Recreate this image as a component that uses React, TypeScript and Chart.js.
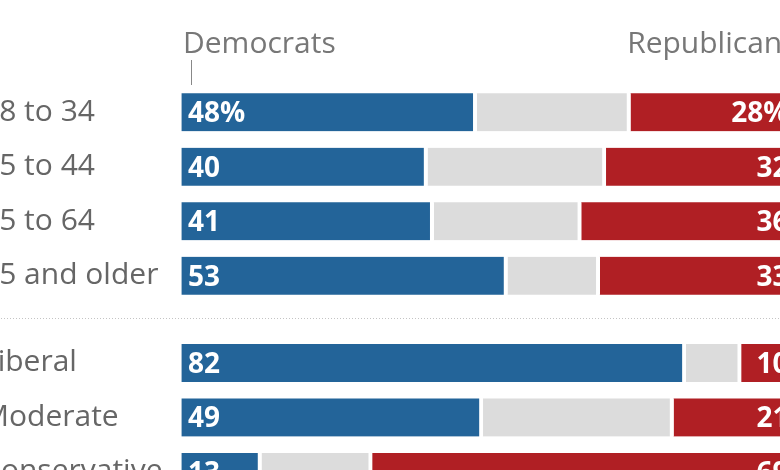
import React, { useEffect, useRef } from "react";
import { Chart, registerables } from "chart.js";

Chart.register(...registerables);

// ---- data ----
const CATEGORIES = ["18 to 34", "35 to 44", "45 to 64", "65 and older", "Liberal", "Moderate", "Conservative"];
const GROUP_SIZES = [4, 3];
const SERIES_NAMES = ["Democrats", "Other", "Republicans"];
const DEMOCRATS = [48, 40, 41, 53, 82, 49, 13];
const OTHER = [25, 29, 24, 15, 9, 31, 18];
const REPUBLICANS = [28, 32, 36, 33, 10, 21, 69];

// ---- styling / layout ----
const GROUP_GAP = 0.6;
const COLORS = ["#236499", "#dcdcdc", "#b01f24"];
const FONT = '"Open Sans", "Liberation Sans", sans-serif';

const ROW_POS: number[] = [];
(() => {
  let p = 0;
  GROUP_SIZES.forEach((n) => {
    for (let i = 0; i < n; i++) {
      ROW_POS.push(p);
      p += 1;
    }
    p += GROUP_GAP;
  });
})();

const overlay = {
  id: "overlay",
  afterDatasetsDraw(chart: any) {
    const { ctx, scales } = chart;
    const x = scales.x;
    const y = scales.y;
    const x0 = x.getPixelForValue(0);
    const x100 = x.getPixelForValue(100);
    ctx.save();

    // headers
    ctx.font = `30px ${FONT}`;
    ctx.fillStyle = "#777";
    ctx.textBaseline = "alphabetic";
    ctx.textAlign = "left";
    ctx.fillText(SERIES_NAMES[0], x0 + 1.5, y.top - 32);
    ctx.textAlign = "right";
    ctx.fillText(SERIES_NAMES[2], x100, y.top - 32);

    // little tick under first header
    ctx.strokeStyle = "#888";
    ctx.lineWidth = 1;
    ctx.beginPath();
    const tx = Math.round(x0 + 9) + 0.5;
    ctx.moveTo(tx, y.top - 25);
    ctx.lineTo(tx, y.top);
    ctx.stroke();

    // dotted separators between groups
    ctx.strokeStyle = "#c4c4c4";
    ctx.setLineDash([1, 2]);
    let idx = 0;
    for (let g = 0; g < GROUP_SIZES.length - 1; g++) {
      idx += GROUP_SIZES[g];
      const mid = (ROW_POS[idx - 1] + ROW_POS[idx]) / 2;
      const py = Math.round(y.getPixelForValue(mid) - 1.5) + 0.5;
      ctx.beginPath();
      ctx.moveTo(0, py);
      ctx.lineTo(chart.width, py);
      ctx.stroke();
    }
    ctx.setLineDash([]);

    // value labels
    ctx.font = `bold 28px ${FONT}`;
    ctx.fillStyle = "#fff";
    const dem = chart.getDatasetMeta(0).data;
    const rep = chart.getDatasetMeta(2).data;
    dem.forEach((bar: any, i: number) => {
      ctx.textAlign = "left";
      ctx.fillText(String(DEMOCRATS[i]) + (i === 0 ? "%" : ""), bar.base + 6.5, bar.y + 10);
    });
    rep.forEach((bar: any, i: number) => {
      ctx.textAlign = "right";
      ctx.fillText(String(REPUBLICANS[i]) + (i === 0 ? "%" : ""), x100 - 8, bar.y + 10);
    });
    ctx.restore();
  },
};

export default function App() {
  const ref = useRef<HTMLCanvasElement>(null);
  useEffect(() => {
    const series = [DEMOCRATS, OTHER, REPUBLICANS];
    const chart = new Chart(ref.current as HTMLCanvasElement, {
      type: "bar",
      data: {
        datasets: series.map((vals, s) => ({
          label: SERIES_NAMES[s],
          data: vals.map((v, i) => ({ x: v, y: ROW_POS[i] })),
          backgroundColor: COLORS[s],
          borderColor: "#ffffff",
          borderWidth: { top: 0, right: 4, bottom: 0, left: 0 },
          borderSkipped: false,
          barThickness: 38,
          clip: false,
        })) as any,
      },
      options: {
        indexAxis: "y",
        animation: false,
        responsive: false,
        devicePixelRatio: 1,
        layout: { padding: { left: 2, top: 85, right: 23.5, bottom: 25 } },
        plugins: { legend: { display: false }, tooltip: { enabled: false } },
        scales: {
          x: {
            type: "linear",
            stacked: true,
            min: 0,
            max: 100,
            offset: false,
            display: false,
          },
          y: {
            type: "linear",
            stacked: true,
            reverse: true,
            min: -0.5,
            max: 7.5,
            offset: false,
            bounds: "data",
            grid: { display: false, offset: false },
            border: { display: false },
            afterBuildTicks: (axis: any) => {
              axis.ticks = ROW_POS.map((v) => ({ value: v }));
            },
            afterFit: (axis: any) => {
              axis.width = 199.5;
            },
            ticks: {
              autoSkip: false,
              crossAlign: "far",
              color: "#666",
              font: { family: FONT, size: 30 },
              callback: (_v: any, i: number) => CATEGORIES[i],
            },
          },
        },
      } as any,
      plugins: [overlay],
    });
    return () => chart.destroy();
  }, []);

  return (
    <div
      style={{
        position: "fixed",
        left: 0,
        top: 0,
        width: 780,
        height: 470,
        overflow: "hidden",
        background: "#fff",
      }}
    >
      <canvas
        ref={ref}
        width={840}
        height={546}
        style={{ position: "absolute", left: -20, top: 0, width: 840, height: 546 }}
      />
    </div>
  );
}
